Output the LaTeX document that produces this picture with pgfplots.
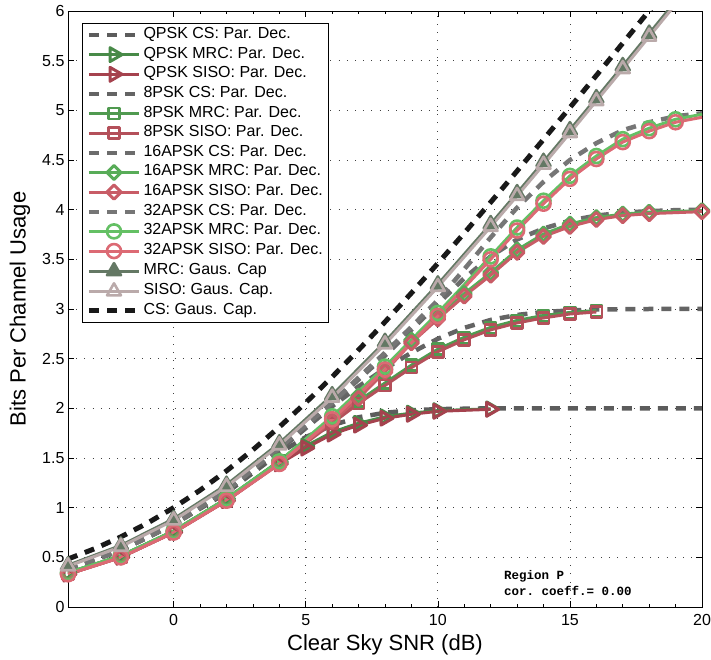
\documentclass[border=0pt]{standalone}
\usepackage{fontspec}
\setmainfont{Liberation Sans}
\setmonofont{Liberation Mono}
\usepackage{pgfplots}
\pgfplotsset{compat=1.18}

\definecolor{csA}{RGB}{92,92,92}
\definecolor{csB}{RGB}{100,100,100}
\definecolor{csC}{RGB}{108,108,108}
\definecolor{csD}{RGB}{118,118,118}
\definecolor{mrcA}{RGB}{72,138,72}
\definecolor{mrcB}{RGB}{80,154,80}
\definecolor{mrcC}{RGB}{88,172,88}
\definecolor{mrcD}{RGB}{100,192,100}
\definecolor{sisoA}{RGB}{165,66,78}
\definecolor{sisoB}{RGB}{180,80,90}
\definecolor{sisoC}{RGB}{200,92,102}
\definecolor{sisoD}{RGB}{220,106,116}
\definecolor{mrcG}{RGB}{100,120,100}
\definecolor{sisoG}{RGB}{186,170,170}
\definecolor{csG}{RGB}{25,25,25}

\pgfplotsset{
  csdash/.style={line width=4.5pt, dash pattern=on 10pt off 8pt, no marks, line join=round},
  modline/.style={line width=3pt, line join=round, mark options={solid, line width=2.6pt}},
}

\begin{document}
\begin{tikzpicture}
\begin{axis}[
  scale only axis, width=634pt, height=596pt,
  xmin=-4, xmax=20, ymin=0, ymax=6,
  xtick={0,5,10,15,20}, ytick={0,0.5,...,6},
  minor x tick num=4,
  tick align=inside, major tick length=6pt, minor tick length=3pt,
  every tick/.style={black, line width=0.6pt},
  axis line style={line width=0.8pt},
  grid=major,
  major grid style={black!75, line width=0.8pt, dash pattern=on 0.8pt off 7.4pt},
  /pgf/number format/assume math mode=true,
  ticklabel style={font=\fontsize{16}{19}\selectfont},
  xticklabel style={yshift=-4pt},
  xlabel={Clear Sky SNR (dB)}, ylabel={Bits Per Channel Usage},
  label style={font=\fontsize{22}{26}\selectfont},
  xlabel style={at={(axis description cs:0.5,-0.0638)}, anchor=center},
  ylabel style={at={(axis description cs:-0.0757,0.5)}, anchor=center},
  legend style={at={(0,1)}, anchor=north west, xshift=14pt, yshift=-12pt,
    draw=black, line width=1pt, fill=white, inner xsep=4pt, inner ysep=4pt,
    font=\fontsize{16}{19}\selectfont, row sep=4.64pt,
    nodes={inner xsep=2pt, inner ysep=0pt, text height=11pt, text depth=4pt}},
  legend cell align=left,
  legend image code/.code={\draw[#1, mark indices={2}] plot coordinates {(0pt,0pt) (25pt,0pt) (50pt,0pt)};},
]
% ---- QPSK
\addplot[color=csA, csdash] coordinates {(-4,0.38) (-2,0.57) (0,0.83) (2,1.15) (4,1.55) (5,1.71) (6,1.83) (7,1.91) (8,1.955) (9,1.98) (10,1.992) (12,2.0) (14,2.0) (16,2.0) (18,2.0) (20,2.0)};
\addlegendentry{QPSK CS: Par. Dec.}
\addplot[color=mrcA, modline, mark=triangle, mark size=8pt, mark options={rotate=-90}] coordinates {(-4,0.345) (-2,0.515) (0,0.765) (2,1.09) (4,1.46) (5,1.62) (6,1.76) (7,1.85) (8,1.915) (9,1.952) (10,1.977) (12,1.995)};
\addlegendentry{QPSK MRC: Par. Dec.}
\addplot[color=sisoA, modline, mark=triangle, mark size=8pt, mark options={rotate=-90}] coordinates {(-4,0.33) (-2,0.50) (0,0.75) (2,1.07) (4,1.44) (5,1.60) (6,1.74) (7,1.83) (8,1.90) (9,1.94) (10,1.97) (12,1.99)};
\addlegendentry{QPSK SISO: Par. Dec.}
% ---- 8PSK
\addplot[color=csB, csdash] coordinates {(-4,0.38) (-2,0.57) (0,0.83) (2,1.17) (4,1.58) (6,2.02) (7,2.22) (8,2.40) (9,2.56) (10,2.70) (11,2.81) (12,2.89) (13,2.94) (14,2.97) (15,2.985) (16,2.995) (18,3.0) (20,3.0)};
\addlegendentry{8PSK CS: Par. Dec.}
\addplot[color=mrcB, modline, mark=square, mark size=5.5pt] coordinates {(-4,0.345) (-2,0.515) (0,0.765) (2,1.09) (4,1.47) (6,1.875) (7,2.075) (8,2.255) (9,2.435) (10,2.595) (11,2.715) (12,2.815) (13,2.885) (14,2.935) (15,2.965) (16,2.985)};
\addlegendentry{8PSK MRC: Par. Dec.}
\addplot[color=sisoB, modline, mark=square, mark size=5.5pt] coordinates {(-4,0.33) (-2,0.50) (0,0.75) (2,1.07) (4,1.45) (6,1.85) (7,2.05) (8,2.23) (9,2.41) (10,2.57) (11,2.69) (12,2.79) (13,2.86) (14,2.91) (15,2.95) (16,2.97)};
\addlegendentry{8PSK SISO: Par. Dec.}
% ---- 16APSK
\addplot[color=csC, csdash] coordinates {(-4,0.38) (-2,0.57) (0,0.83) (2,1.17) (4,1.60) (6,2.05) (7,2.29) (8,2.53) (9,2.79) (10,3.05) (11,3.31) (12,3.53) (13,3.70) (14,3.81) (15,3.89) (16,3.94) (17,3.97) (18,3.985) (19,3.995) (20,4.0)};
\addlegendentry{16APSK CS: Par. Dec.}
\addplot[color=mrcC, modline, mark=square, mark size=5pt, mark options={rotate=45}] coordinates {(-4,0.345) (-2,0.515) (0,0.765) (2,1.09) (4,1.47) (6,1.895) (7,2.125) (8,2.395) (9,2.685) (10,2.925) (11,3.155) (12,3.365) (13,3.595) (14,3.755) (15,3.855) (16,3.92) (17,3.955) (18,3.975) (20,3.99)};
\addlegendentry{16APSK MRC: Par. Dec.}
\addplot[color=sisoC, modline, mark=square, mark size=5pt, mark options={rotate=45}] coordinates {(-4,0.33) (-2,0.50) (0,0.75) (2,1.07) (4,1.45) (6,1.87) (7,2.10) (8,2.37) (9,2.66) (10,2.90) (11,3.13) (12,3.34) (13,3.57) (14,3.73) (15,3.83) (16,3.90) (17,3.94) (18,3.96) (20,3.98)};
\addlegendentry{16APSK SISO: Par. Dec.}
% ---- 32APSK
\addplot[color=csD, csdash] coordinates {(-4,0.38) (-2,0.57) (0,0.83) (2,1.17) (4,1.60) (6,2.06) (7,2.31) (8,2.56) (9,2.82) (10,3.09) (11,3.40) (12,3.72) (13,4.02) (14,4.28) (15,4.50) (16,4.67) (17,4.80) (18,4.88) (19,4.94) (20,4.97)};
\addlegendentry{32APSK CS: Par. Dec.}
\addplot[color=mrcD, modline, mark=o, mark size=7pt, mark indices={1,2,3,4,5,6,7,8,9,10,11,12,13,14,15,16}] coordinates {(-4,0.345) (-2,0.515) (0,0.765) (2,1.09) (4,1.465) (6,1.92) (8,2.42) (10,2.96) (12,3.53) (13,3.82) (14,4.09) (15,4.34) (16,4.54) (17,4.71) (18,4.82) (19,4.91) (20,4.96)};
\addlegendentry{32APSK MRC: Par. Dec.}
\addplot[color=sisoD, modline, mark=o, mark size=7pt, mark indices={1,2,3,4,5,6,7,8,9,10,11,12,13,14,15,16}] coordinates {(-4,0.33) (-2,0.50) (0,0.75) (2,1.07) (4,1.44) (6,1.89) (8,2.39) (10,2.93) (12,3.50) (13,3.79) (14,4.06) (15,4.31) (16,4.51) (17,4.68) (18,4.79) (19,4.88) (20,4.93)};
\addlegendentry{32APSK SISO: Par. Dec.}
% ---- Gaussian capacities
\addplot[color=mrcG, line width=3pt, line join=round, mark=triangle*, mark size=8pt, mark options={solid, line width=2.6pt}] coordinates {(-4,0.4205) (-2,0.6195) (0,0.8875) (2,1.2309) (4,1.6487) (6,2.1323) (8,2.6697) (10,3.2479) (12,3.855) (13,4.167) (14,4.482) (15,4.801) (16,5.123) (17,5.446) (18,5.772) (19,6.098) (20,6.426)};
\addlegendentry{MRC: Gaus. Cap}
\addplot[color=sisoG, line width=3pt, line join=round, mark=triangle, mark size=8pt, mark options={solid, line width=2.6pt}] coordinates {(-4,0.41) (-2,0.607) (0,0.872) (2,1.212) (4,1.628) (6,2.108) (8,2.645) (10,3.222) (12,3.828) (13,4.139) (14,4.453) (15,4.772) (16,5.094) (17,5.416) (18,5.742) (19,6.068) (20,6.396)};
\addlegendentry{SISO: Gaus. Cap.}
\addplot[color=csG, line width=5pt, dash pattern=on 10pt off 8pt, no marks] coordinates {(-4,0.4832) (-3,0.5859) (-2,0.7058) (-1,0.8434) (0,1.0) (1,1.1757) (2,1.3703) (3,1.5826) (4,1.8123) (5,2.0573) (6,2.3163) (7,2.5879) (8,2.8698) (9,3.1610) (10,3.4594) (11,3.7644) (12,4.0746) (13,4.3890) (14,4.7072) (15,5.0280) (16,5.3508) (17,5.6760) (18,6.0025) (19,6.3297) (20,6.6580)};
\addlegendentry{CS: Gaus. Cap.}
\node[anchor=west, inner sep=0pt, font=\ttfamily\bfseries\fontsize{12.5}{15}\selectfont] at (axis cs:12.5,0.312) {Region P};
\node[anchor=west, inner sep=0pt, font=\ttfamily\bfseries\fontsize{12.5}{15}\selectfont] at (axis cs:12.5,0.161) {cor. coeff.= 0.00};
\end{axis}
\pgfresetboundingbox
\path ([shift={(-68pt,-53pt)}]current axis.south west) rectangle ([shift={(9pt,11pt)}]current axis.north east);
\end{tikzpicture}
\end{document}
